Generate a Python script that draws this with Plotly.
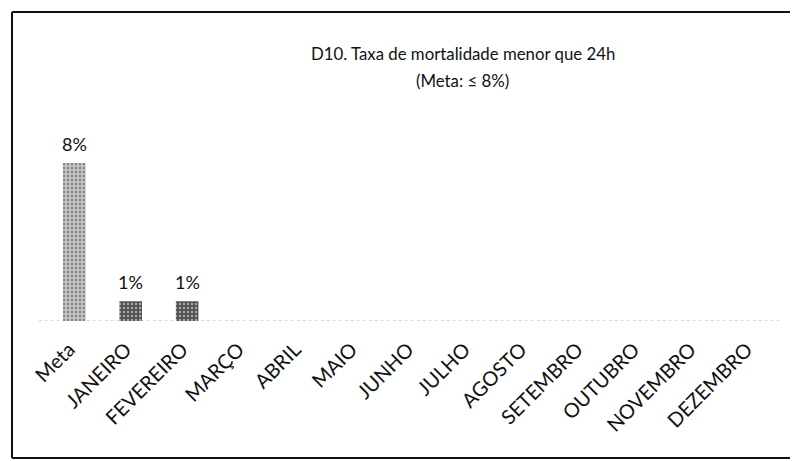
import plotly.graph_objects as go

categories = ["Meta", "JANEIRO", "FEVEREIRO", "MARÇO", "ABRIL", "MAIO", "JUNHO",
              "JULHO", "AGOSTO", "SETEMBRO", "OUTUBRO", "NOVEMBRO", "DEZEMBRO"]
values = [8, 1, 1, None, None, None, None, None, None, None, None, None, None]
labels = ["8%", "1%", "1%", "", "", "", "", "", "", "", "", "", ""]
title_line1 = "D10. Taxa de mortalidade menor que 24h"
title_line2 = "(Meta: ≤ 8%)"

bar_colors = ["#c4c4c4"] + ["#505050"] * 12
pattern_fg = ["#9a9a9a"] + ["#262626"] * 12

FONT = "Lato, 'Open Sans', sans-serif"

PH = 191  # plot height in px
PW = 734  # plot width in px

fig = go.Figure()
fig.add_trace(go.Bar(
    x=categories, y=values,
    marker=dict(color=bar_colors, line=dict(width=0),
                pattern=dict(shape=".", fgcolor=pattern_fg, size=4, solidity=0.3)),
    hoverinfo="skip",
))

label_annotations = [
    dict(x=c, y=v, text=t, xref="x", yref="y", xanchor="center", yanchor="bottom",
         yshift=6, showarrow=False, font=dict(family=FONT, size=18, color="#111111"))
    for c, v, t in zip(categories, values, labels) if v is not None and t
]

fig.update_layout(
    width=790, height=453,
    margin=dict(l=38, r=18, t=122, b=140),
    paper_bgcolor="white", plot_bgcolor="white",
    bargap=0.6, showlegend=False,
    font=dict(family=FONT, color="#111111"),
    xaxis=dict(tickangle=-45, tickfont=dict(family=FONT, size=20, color="#111111"),
               ticklabelstandoff=12, ticklabelshift=-5,
               showgrid=False, showline=False, zeroline=False, ticks=""),
    yaxis=dict(range=[0, 9.67], visible=False, showgrid=False, zeroline=False),
    annotations=label_annotations + [
        dict(text=title_line1, xref="paper", yref="paper",
             x=0.568, y=(313 - 45) / PH, xanchor="center", yanchor="middle", showarrow=False,
             font=dict(family=FONT, size=16.8, color="#111111")),
        dict(text=title_line2, xref="paper", yref="paper",
             x=0.568, y=(313 - 72) / PH, xanchor="center", yanchor="middle", showarrow=False,
             font=dict(family=FONT, size=16.8, color="#111111")),
    ],
    shapes=[
        dict(type="line", xref="paper", yref="y", x0=-0.01, x1=1.0, y0=0, y1=0,
             line=dict(color="#b5b5b5", width=1, dash="dot"), layer="below"),
        dict(type="line", xref="paper", yref="paper", x0=-34 / PW, x1=-34 / PW,
             y0=(313 - 450) / PH, y1=(313 - 4) / PH, line=dict(color="#111111", width=2)),
        dict(type="line", xref="paper", yref="paper", x0=-34 / PW, x1=1 + 18 / PW,
             y0=(313 - 4) / PH, y1=(313 - 4) / PH, line=dict(color="#111111", width=2)),
        dict(type="line", xref="paper", yref="paper", x0=-34 / PW, x1=1 + 18 / PW,
             y0=(313 - 450) / PH, y1=(313 - 450) / PH, line=dict(color="#111111", width=2)),
    ],
)

fig.write_html("out.html")
